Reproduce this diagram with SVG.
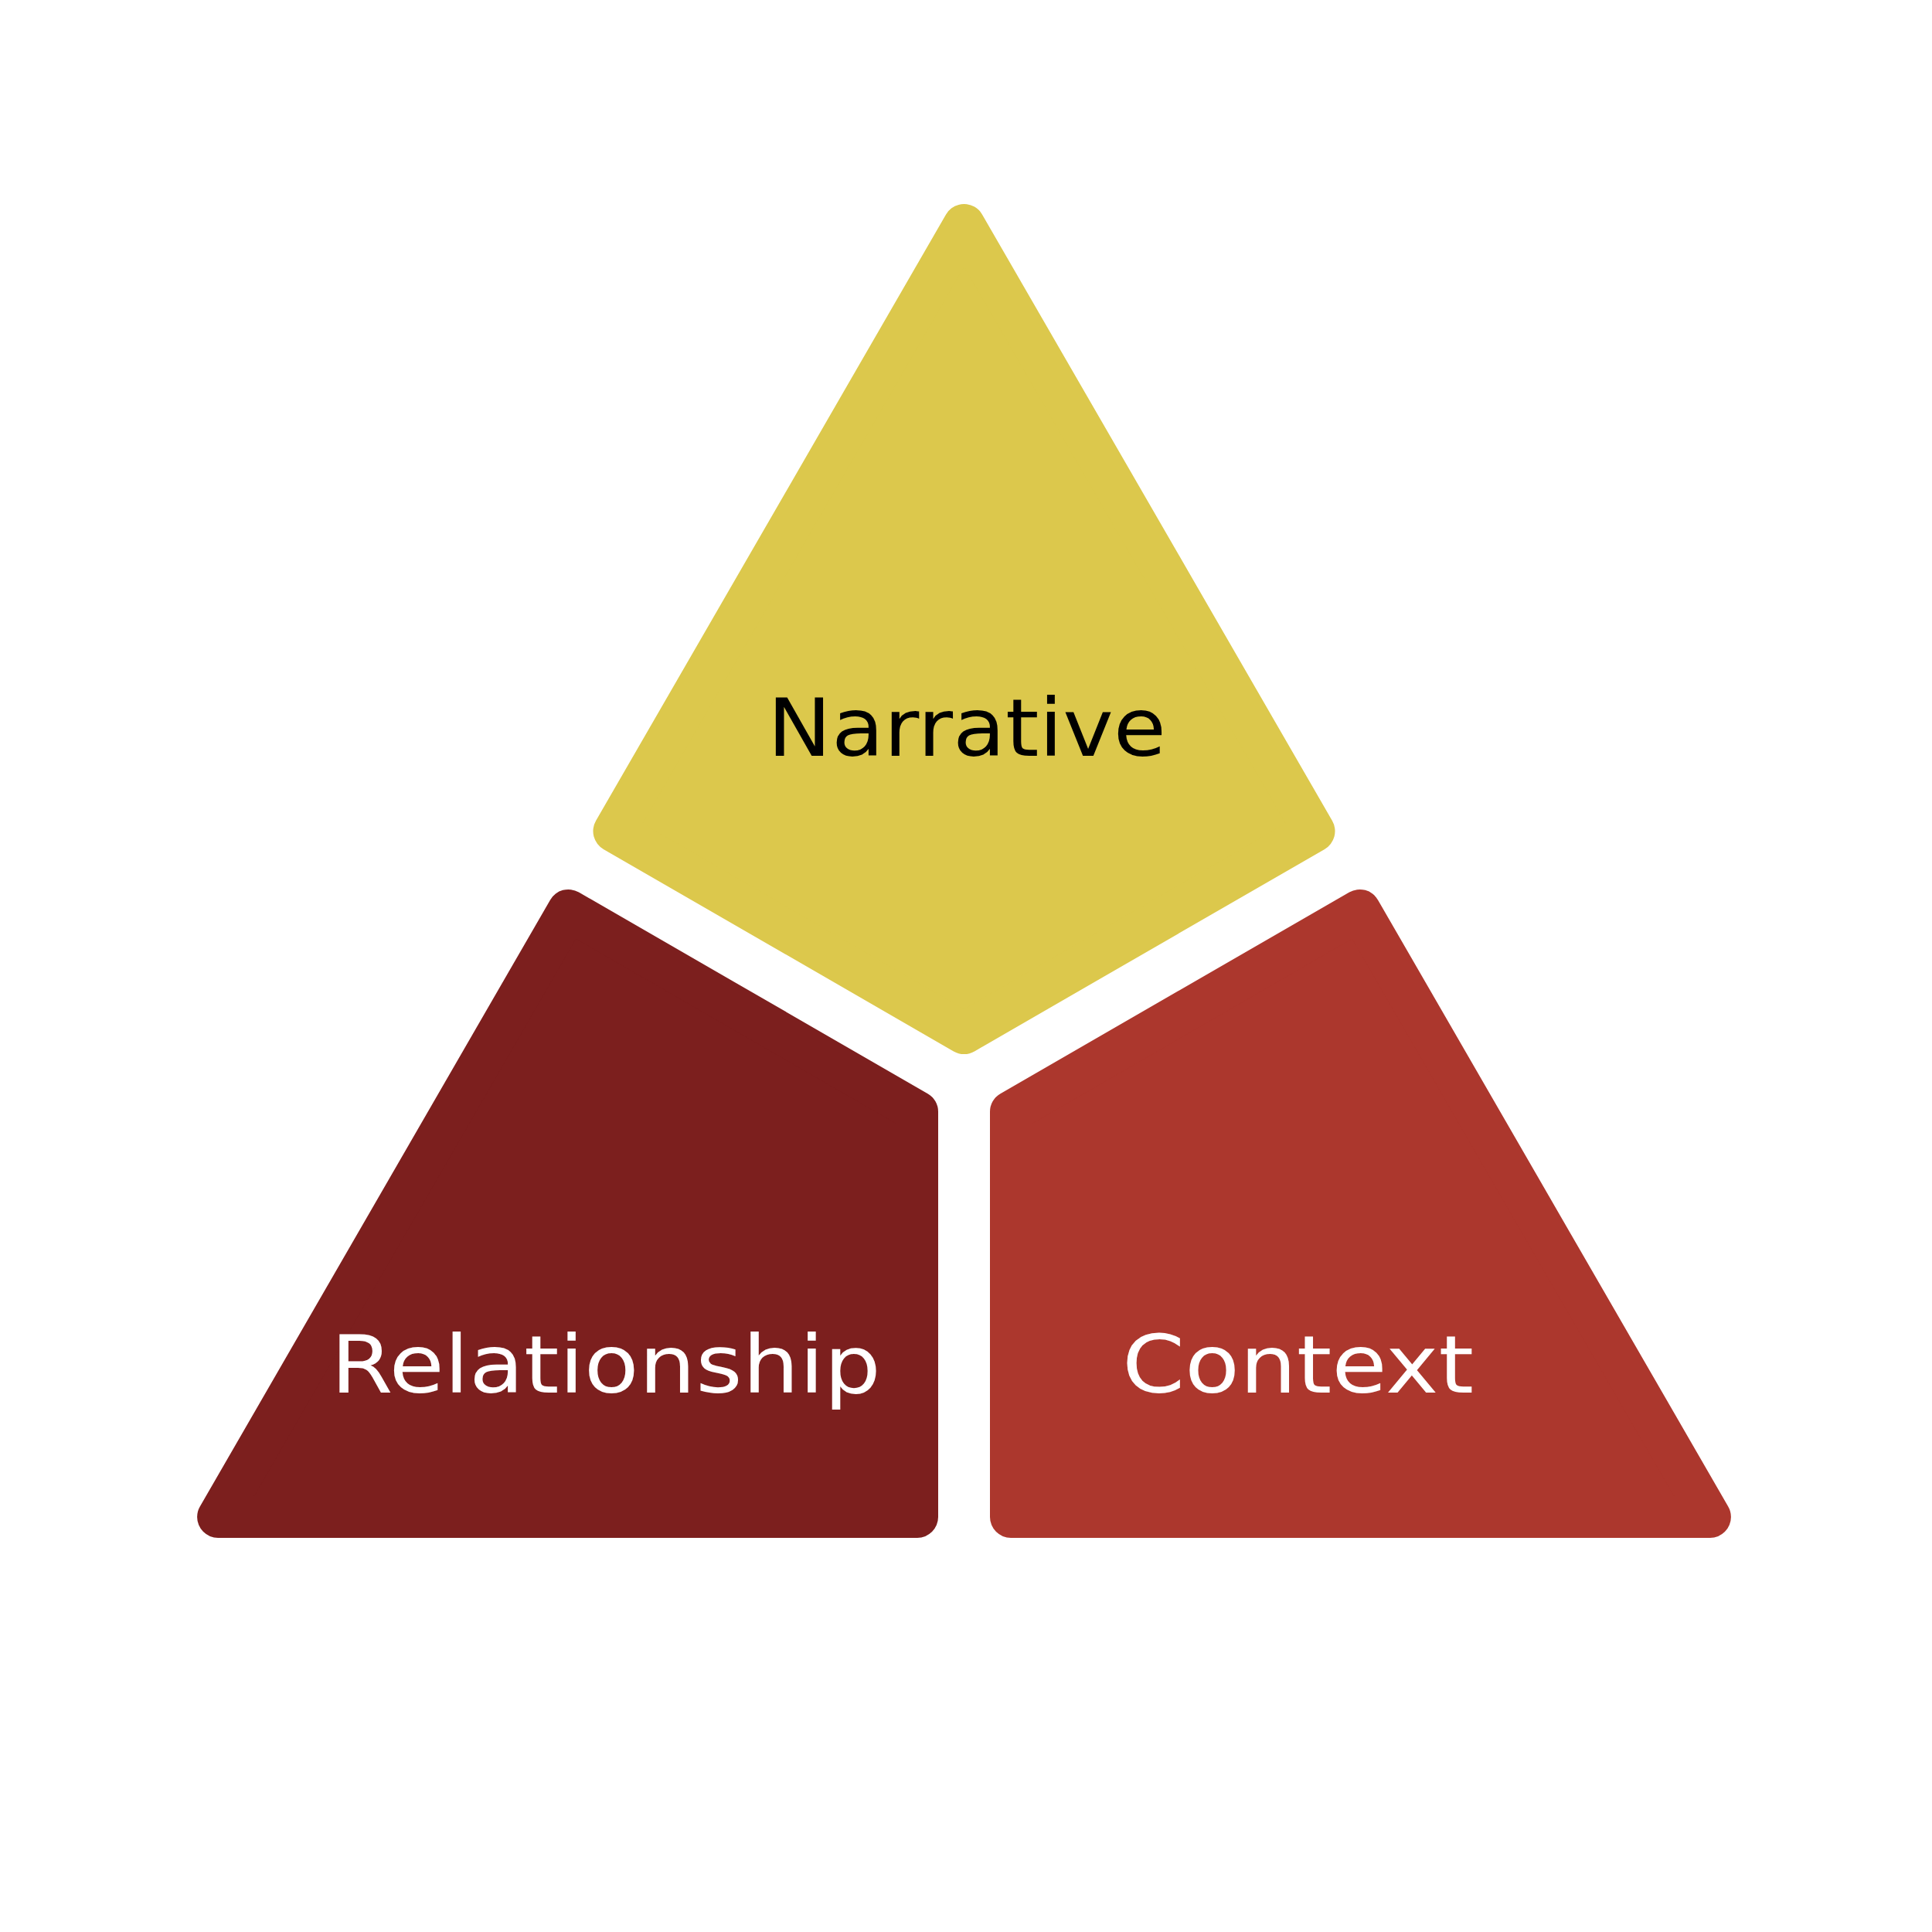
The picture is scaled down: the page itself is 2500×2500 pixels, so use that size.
<svg xmlns="http://www.w3.org/2000/svg" width="2500" height="2500" viewBox="0 0 2500 2500">
<style>
.shape{stroke-width:54;stroke-linejoin:round}
.narr{fill:#DCC84C;stroke:#DCC84C}
.rel{fill:#7C1F1E;stroke:#7C1F1E}
.ctx{fill:#AC372D;stroke:#AC372D}
.lbl{font-family:"DejaVu Sans","Liberation Sans",sans-serif;font-size:103px}
</style>
<rect width="2500" height="2500" fill="#FFFFFF"/>
<g id="narrative">
<polygon class="shape narr" points="1247.5,291 1700.5,1075.5 1247.5,1337 794.5,1075.5"/>
<text class="lbl" x="993" y="978" fill="#000000" textLength="516" lengthAdjust="spacingAndGlyphs">Narrative</text>
</g>
<g id="relationship">
<polygon class="shape rel" points="735.4,1177.9 1187,1438.6 1187,1963 282.1,1963"/>
<text class="lbl" x="428" y="1802" fill="#FFFFFF" textLength="712" lengthAdjust="spacingAndGlyphs">Relationship</text>
</g>
<g id="context">
<polygon class="shape ctx" points="1759.6,1177.9 1308,1438.6 1308,1963 2212.9,1963"/>
<text class="lbl" x="1452" y="1802" fill="#FFFFFF" textLength="455" lengthAdjust="spacingAndGlyphs">Context</text>
</g>
<g id="connectors"/>
</svg>
